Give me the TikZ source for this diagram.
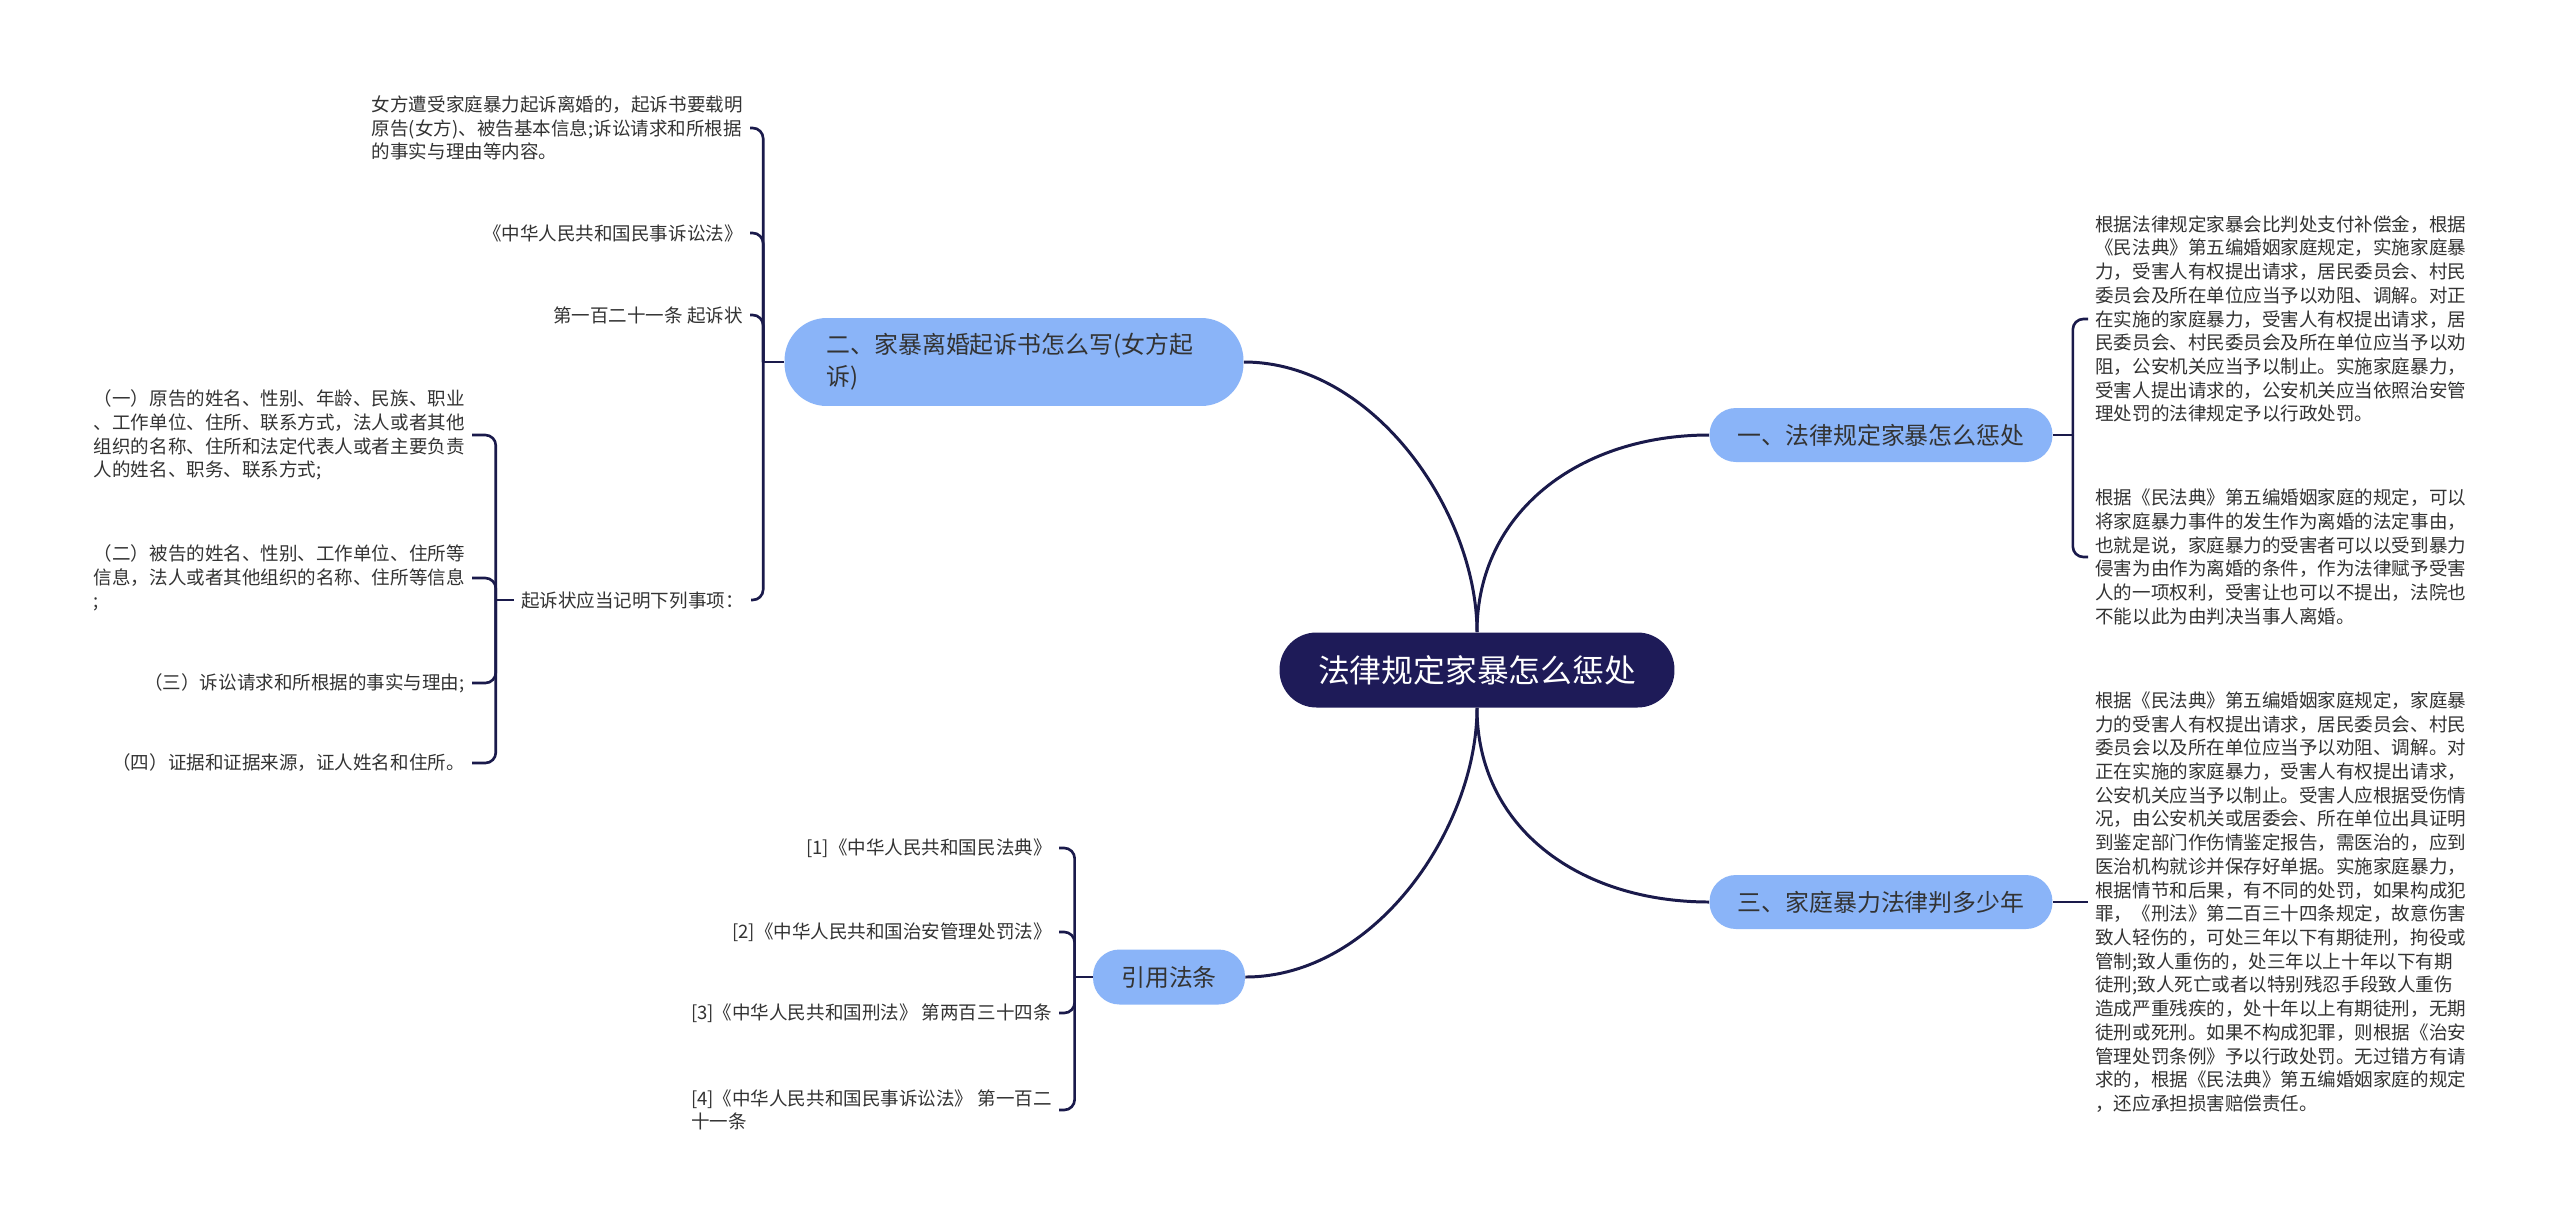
\documentclass[tikz,border=0pt]{standalone}
\usepackage{fontspec}
\setmainfont{Noto Sans CJK SC}
\usetikzlibrary{calc}
\definecolor{navy}{HTML}{1E1B58}
\definecolor{inkline}{HTML}{1A1A4B}
\definecolor{skyblue}{HTML}{8AB4F8}
\definecolor{txtgray}{HTML}{333333}

\begin{document}
\begin{tikzpicture}[x=0.02cm, y=-0.02cm,
  root/.style={fill=navy, text=white, font=\fontsize{18.1}{22}\selectfont,
    rounded corners=21pt, minimum width=7.9cm, minimum height=1.5cm, inner sep=0pt},
  topic/.style={fill=skyblue, text=txtgray, font=\fontsize{13.6}{18.1}\selectfont,
    rounded corners=15pt, minimum height=1.08cm, inner sep=0pt},
  leaf/.style={text=txtgray, font=\fontsize{10.55}{13.5}\selectfont, align=left,
    inner xsep=4pt, inner ysep=0pt},
  link/.style={draw=inkline, line width=1.7pt},
  hook/.style={draw=inkline, line width=1.5pt, rounded corners=6pt}]

% Background
\fill[white] (0,0) rectangle (2560,1221);
\useasboundingbox (0,0) rectangle (2560,1221);

%% Centre
\node[root] (root) at (1477,670) {法律规定家暴怎么惩处};

%% Topics
\node[topic, minimum width=6.86cm] (law) at (1881,435) {一、法律规定家暴怎么惩处};
\node[topic, minimum width=6.86cm] (years) at (1881,902) {三、家庭暴力法律判多少年};
\node[topic, minimum height=1.76cm, rounded corners=24pt, align=left,
  text width=7.5cm, inner xsep=0.84cm] (suit) at (1014,362)
  {二、家暴离婚起诉书怎么写(女方起\\诉)};
\node[topic, minimum width=3.04cm, minimum height=1.1cm] (cite) at (1169,977) {引用法条};

% Centre to topics
\draw[link] (root.north) .. controls +(0,-120) and +(130,0) .. (suit.east);
\draw[link] (root.north) .. controls +(0,-120) and +(-130,0) .. (law.west);
\draw[link] (root.south) .. controls +(0,120) and +(130,0) .. (cite.east);
\draw[link] (root.south) .. controls +(0,120) and +(-130,0) .. (years.west);

%% Topic 1: right side
\node[leaf, anchor=west] (law1) at (2088,319) {根据法律规定家暴会比判处支付补偿金，根据\\
《民法典》第五编婚姻家庭规定，实施家庭暴\\
力，受害人有权提出请求，居民委员会、村民\\
委员会及所在单位应当予以劝阻、调解。对正\\
在实施的家庭暴力，受害人有权提出请求，居\\
民委员会、村民委员会及所在单位应当予以劝\\
阻，公安机关应当予以制止。实施家庭暴力，\\
受害人提出请求的，公安机关应当依照治安管\\
理处罚的法律规定予以行政处罚。};
\node[leaf, anchor=west] (law2) at (2088,557) {根据《民法典》第五编婚姻家庭的规定，可以\\
将家庭暴力事件的发生作为离婚的法定事由，\\
也就是说，家庭暴力的受害者可以以受到暴力\\
侵害为由作为离婚的条件，作为法律赋予受害\\
人的一项权利，受害让也可以不提出，法院也\\
不能以此为由判决当事人离婚。};
\draw[hook] (law.east) -- ++(20,0) coordinate (lawj);
\foreach \kid in {law1,law2} \draw[hook] (lawj) |- (\kid.west);

%% Topic 3: right side
\node[leaf, anchor=west] (years1) at (2088,902) {根据《民法典》第五编婚姻家庭规定，家庭暴\\
力的受害人有权提出请求，居民委员会、村民\\
委员会以及所在单位应当予以劝阻、调解。对\\
正在实施的家庭暴力，受害人有权提出请求，\\
公安机关应当予以制止。受害人应根据受伤情\\
况，由公安机关或居委会、所在单位出具证明\\
到鉴定部门作伤情鉴定报告，需医治的，应到\\
医治机构就诊并保存好单据。实施家庭暴力，\\
根据情节和后果，有不同的处罚，如果构成犯\\
罪，《刑法》第二百三十四条规定，故意伤害\\
致人轻伤的，可处三年以下有期徒刑，拘役或\\
管制;致人重伤的，处三年以上十年以下有期\\
徒刑;致人死亡或者以特别残忍手段致人重伤\\
造成严重残疾的，处十年以上有期徒刑，无期\\
徒刑或死刑。如果不构成犯罪，则根据《治安\\
管理处罚条例》予以行政处罚。无过错方有请\\
求的，根据《民法典》第五编婚姻家庭的规定\\
，还应承担损害赔偿责任。};
\draw[hook] (years.east) -- (years1.west);

%% Topic 2: left side
\node[leaf, anchor=east] (suit1) at (750,128) {女方遭受家庭暴力起诉离婚的，起诉书要载明\\
原告(女方)、被告基本信息;诉讼请求和所根据\\
的事实与理由等内容。};
\node[leaf, anchor=east] (suit2) at (750,233) {《中华人民共和国民事诉讼法》};
\node[leaf, anchor=east] (suit3) at (750,315) {第一百二十一条 起诉状};
\node[leaf, anchor=east] (items) at (751,600) {起诉状应当记明下列事项：};
\draw[hook] (suit.west) -- ++(-21,0) coordinate (suitj);
\foreach \kid in {suit1,suit2,suit3,items} \draw[hook] (suitj) |- (\kid.east);

% Items of the complaint
\node[leaf, anchor=east] (item1) at (472,435) {（一）原告的姓名、性别、年龄、民族、职业\\
、工作单位、住所、联系方式，法人或者其他\\
组织的名称、住所和法定代表人或者主要负责\\
人的姓名、职务、联系方式;};
\node[leaf, anchor=east] (item2) at (472,578) {（二）被告的姓名、性别、工作单位、住所等\\
信息，法人或者其他组织的名称、住所等信息\\
;};
\node[leaf, anchor=east] (item3) at (472,683) {（三）诉讼请求和所根据的事实与理由;};
\node[leaf, anchor=east] (item4) at (472,763) {（四）证据和证据来源，证人姓名和住所。};
\draw[hook] (items.west) -- ++(-18,0) coordinate (itemsj);
\foreach \kid in {item1,item2,item3,item4} \draw[hook] (itemsj) |- (\kid.east);

%% Topic 4: cited laws
\node[leaf, anchor=east] (cite1) at (1059,848) {[1]《中华人民共和国民法典》};
\node[leaf, anchor=east] (cite2) at (1059,932) {[2]《中华人民共和国治安管理处罚法》};
\node[leaf, anchor=east] (cite3) at (1059,1013) {[3]《中华人民共和国刑法》 第两百三十四条};
\node[leaf, anchor=east] (cite4) at (1059,1110) {[4]《中华人民共和国民事诉讼法》 第一百二\\
十一条};
\draw[hook] (cite.west) -- ++(-18,0) coordinate (citej);
\foreach \kid in {cite1,cite2,cite3,cite4} \draw[hook] (citej) |- (\kid.east);

\end{tikzpicture}
\end{document}
